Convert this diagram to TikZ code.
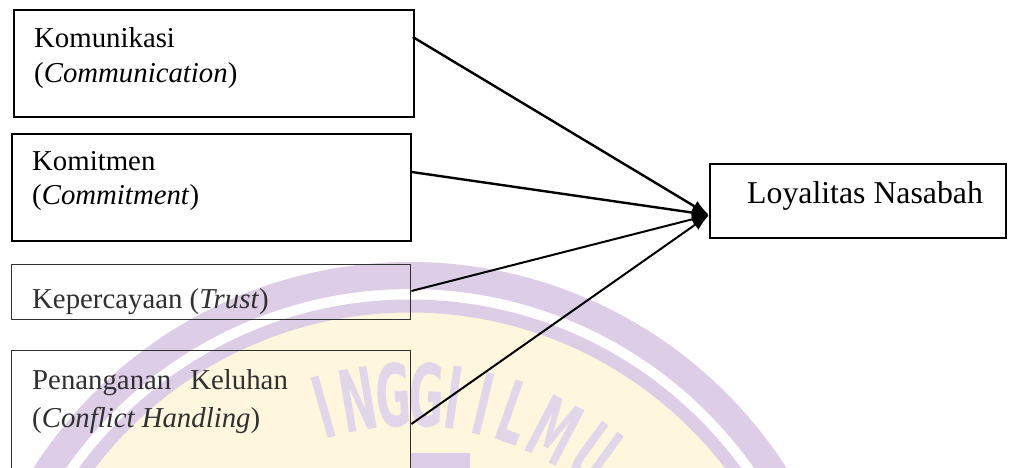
\documentclass[tikz,border=0pt]{standalone}
\usepackage{fontspec}
\setmainfont{Liberation Serif}
\newfontfamily\wmfont{DejaVu Sans}
\usetikzlibrary{arrows.meta,calc}
\definecolor{wmlilac}{RGB}{221,205,231}
\definecolor{wmletter}{RGB}{226,214,235}
\definecolor{wmcream}{RGB}{255,246,222}
\definecolor{inkgrey}{RGB}{48,48,48}
\begin{document}
\begin{tikzpicture}[x=1pt,y=-1pt,
  box/.style={draw=black, line width=1.8pt, inner sep=0pt, anchor=north west},
  softbox/.style={box, draw=inkgrey, line width=1.4pt},
  lbl/.style={inner sep=0pt, anchor=base west, font=\fontsize{28.8}{34}\selectfont},
  biglbl/.style={lbl, font=\fontsize{31.8}{38}\selectfont},
  link/.style={line width=2.4pt, -{Latex[length=17pt,width=12pt]}},
  thinlink/.style={link, line width=2pt},
  wmchar/.style={inner sep=0pt, text=wmletter, font=\wmfont\bfseries\fontsize{86}{86}\selectfont}
]
\useasboundingbox (0,0) rectangle (1033,468);
\fill[white] (0,0) rectangle (1033,468);
\clip (0,0) rectangle (1033,468);

% background seal
\coordinate (sealc) at (410,709);
\fill[wmcream] (sealc) circle (397pt);
\draw[wmlilac, line width=13pt] (sealc) circle (403pt);
\draw[wmlilac, line width=27pt] (sealc) circle (433.5pt);
\fill[wmlilac] (410,453) rectangle (470,470);
\foreach \ch/\ang [count=\i] in {I/-16,N/-9.5,G/-3,G/3,I/8,I/13.5,L/19.5,M/27.5,U/36}
  \node[wmchar, rotate={-1*\ang}] (wm\i) at ($(sealc)+({314*sin(\ang)},{-314*cos(\ang)})$) {\scalebox{0.5}[1]{\ch}};

% factor boxes
\node[box, minimum width=400pt, minimum height=107pt] (kom) at (13,9) {};
\node[box, minimum width=399pt, minimum height=107pt] (mit) at (11,133) {};
\node[softbox, minimum width=399pt, minimum height=55pt] (tru) at (11,264) {};
\node[softbox, minimum width=399pt, minimum height=150pt] (pen) at (11,350) {};
\node[box, minimum width=296pt, minimum height=74pt] (loy) at (709,163) {};

% labels
\node[lbl] (komA) at (34,47.7) {Komunikasi};
\node[lbl] (komB) at (34,83) {(\textit{Communication})};
\node[lbl] (mitA) at (32,170.7) {Komitmen};
\node[lbl] (mitB) at (32,204) {(\textit{Commitment})};
\node[lbl, text=inkgrey] (truA) at (32,308) {Kepercayaan (\textit{Trust})};
\node[lbl, text=inkgrey] (penA) at (32,389) {Penanganan\hspace{19pt}Keluhan};
\node[lbl, text=inkgrey] (penB) at (32,427) {(\textit{Conflict Handling})};
\node[biglbl] (loyA) at (747,203) {Loyalitas Nasabah};

% connectors
\coordinate (tip) at (709,215);
\draw[link] ($(kom.north east)+(-2,28)$) -- (tip);
\draw[link] ($(mit.north east)+(0,39)$) -- (tip);
\draw[thinlink] ($(tru.north east)+(0,27)$) -- (tip);
\draw[thinlink] ($(pen.north east)+(0,74)$) -- (tip);
\end{tikzpicture}
\end{document}
